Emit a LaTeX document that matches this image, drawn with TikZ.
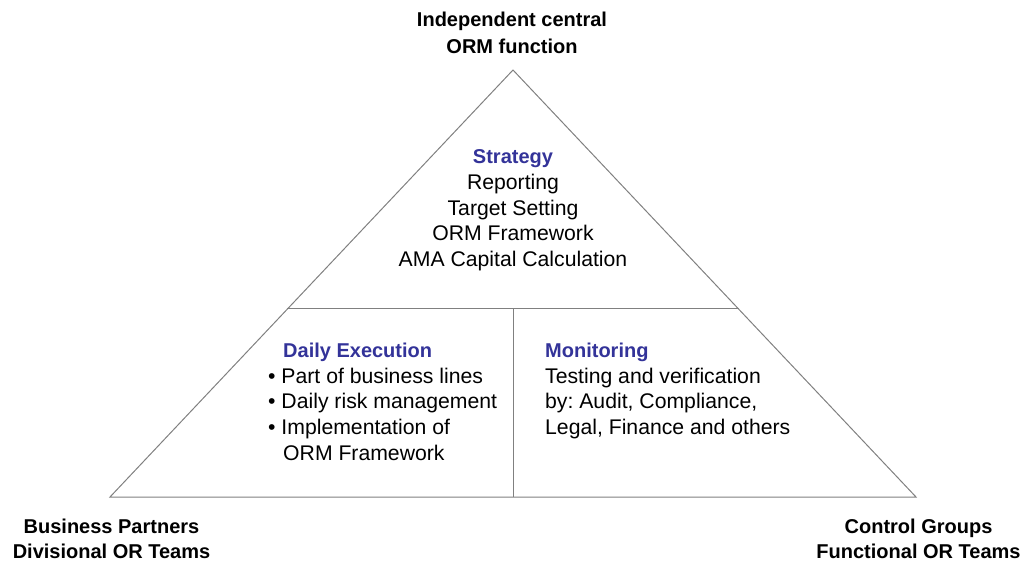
\documentclass[tikz,border=0pt]{standalone}
\usepackage{fontspec}
\setmainfont{Liberation Sans}
\definecolor{headblue}{HTML}{333399}
\definecolor{linegray}{HTML}{808080}
\frenchspacing
\begin{document}
\begin{tikzpicture}[x=1pt,y=-1pt,
  edge/.style={draw=linegray,line width=1pt},
  corner/.style={inner sep=0pt,anchor=base,font=\fontsize{20}{24}\selectfont\bfseries,text=black},
  head/.style={inner sep=0pt,font=\fontsize{20}{24}\selectfont\bfseries,text=headblue},
  body/.style={inner sep=0pt,font=\fontsize{21.2}{25}\selectfont,text=black}]
\useasboundingbox (0,0) rectangle (1023,561);
% triangle
\coordinate (apex) at (513,70);
\coordinate (bl) at (110,497);
\coordinate (br) at (916,497);
\coordinate (ml) at (287.4,309);
\coordinate (mr) at (738.6,309);
\coordinate (mc) at (513,309);
\coordinate (bc) at (513,497);
\draw[edge] (apex) -- (bl) -- (br) -- cycle;
\draw[edge] (ml) -- (mr);
\draw[edge] (mc) -- (bc);
% corner labels
\node[corner] (t1) at (512,27) {Independent central};
\node[corner] (t2) at (512,54) {ORM function};
\node[corner] (l1) at (111.5,533) {Business Partners};
\node[corner] (l2) at (111.5,558.5) {Divisional OR Teams};
\node[corner] (r1) at (918.5,533) {Control Groups};
\node[corner] (r2) at (918.5,558.5) {Functional OR Teams};
% strategy
\node[head,anchor=base] (s0) at (513,164) {Strategy};
\node[body,anchor=base] (s1) at (513,190) {Reporting};
\node[body,anchor=base] (s2) at (513,216) {Target Setting};
\node[body,anchor=base] (s3) at (513,241) {ORM Framework};
\node[body,anchor=base] (s4) at (513,267) {AMA Capital Calculation};
% daily execution
\node[head,anchor=base west] (d0) at (283,357) {Daily Execution};
\node[body,anchor=base west] (d1) at (268,383) {\textbullet\ Part of business lines};
\node[body,anchor=base west] (d2) at (268,408) {\textbullet\ Daily risk management};
\node[body,anchor=base west] (d3) at (268,434) {\textbullet\ Implementation of};
\node[body,anchor=base west] (d4) at (283,460) {ORM Framework};
% monitoring
\node[head,anchor=base west] (m0) at (545,357) {Monitoring};
\node[body,anchor=base west] (m1) at (545,383) {Testing and verification};
\node[body,anchor=base west] (m2) at (545,408) {by: Audit, Compliance,};
\node[body,anchor=base west] (m3) at (545,434) {Legal, Finance and others};
\end{tikzpicture}
\end{document}
